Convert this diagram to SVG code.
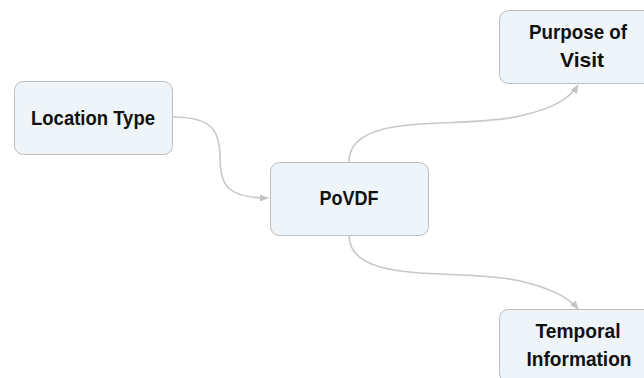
<svg xmlns="http://www.w3.org/2000/svg" width="644" height="378" viewBox="0 0 644 378">
  <defs>
    <marker id="arrow" viewBox="0 0 10 10" refX="9" refY="5" markerWidth="9" markerHeight="9" markerUnits="userSpaceOnUse" orient="auto">
      <path d="M0,1 L10,5 L0,9 Z" fill="#c4c4c4"/>
    </marker>
  </defs>
  <style>
    .box { fill: #eff4f9; stroke: #bdbdbd; stroke-width: 1; }
    .label { font-family: "Liberation Sans", Arial, sans-serif; font-weight: bold; font-size: 21px; fill: #111; text-anchor: middle; }
    .link { fill: none; stroke: #c8c8c8; stroke-width: 1.6; marker-end: url(#arrow); }
  </style>
  <rect width="644" height="378" fill="#ffffff"/>

  <g id="connectors">
    <path class="link" d="M172,117 C212,117 220,130 220,158 C220,186 228,198 268,198"/>
    <path class="link" d="M349,162 C349,110 460,130 520,116 C555,108 570,98 578,85"/>
    <path class="link" d="M349,235 C349,287 460,267 520,281 C555,289 570,299 578,309"/>
  </g>

  <g id="location-type">
    <rect class="box" x="14.5" y="81.5" width="158" height="73" rx="9"/>
    <text class="label" x="93" y="125" textLength="124" lengthAdjust="spacingAndGlyphs">Location Type</text>
  </g>

  <g id="povdf">
    <rect class="box" x="270.5" y="162.5" width="158" height="73" rx="9"/>
    <text class="label" x="349" y="205" textLength="59" lengthAdjust="spacingAndGlyphs">PoVDF</text>
  </g>

  <g id="purpose-of-visit">
    <rect class="box" x="499.5" y="10.5" width="158" height="73" rx="9"/>
    <text class="label" x="578" y="39" textLength="98" lengthAdjust="spacingAndGlyphs">Purpose of</text>
    <text class="label" x="582" y="67">Visit</text>
  </g>

  <g id="temporal-information">
    <rect class="box" x="499.5" y="309.5" width="158" height="73" rx="9"/>
    <text class="label" x="578" y="338" textLength="85" lengthAdjust="spacingAndGlyphs">Temporal</text>
    <text class="label" x="579" y="366" textLength="105" lengthAdjust="spacingAndGlyphs">Information</text>
  </g>
</svg>
